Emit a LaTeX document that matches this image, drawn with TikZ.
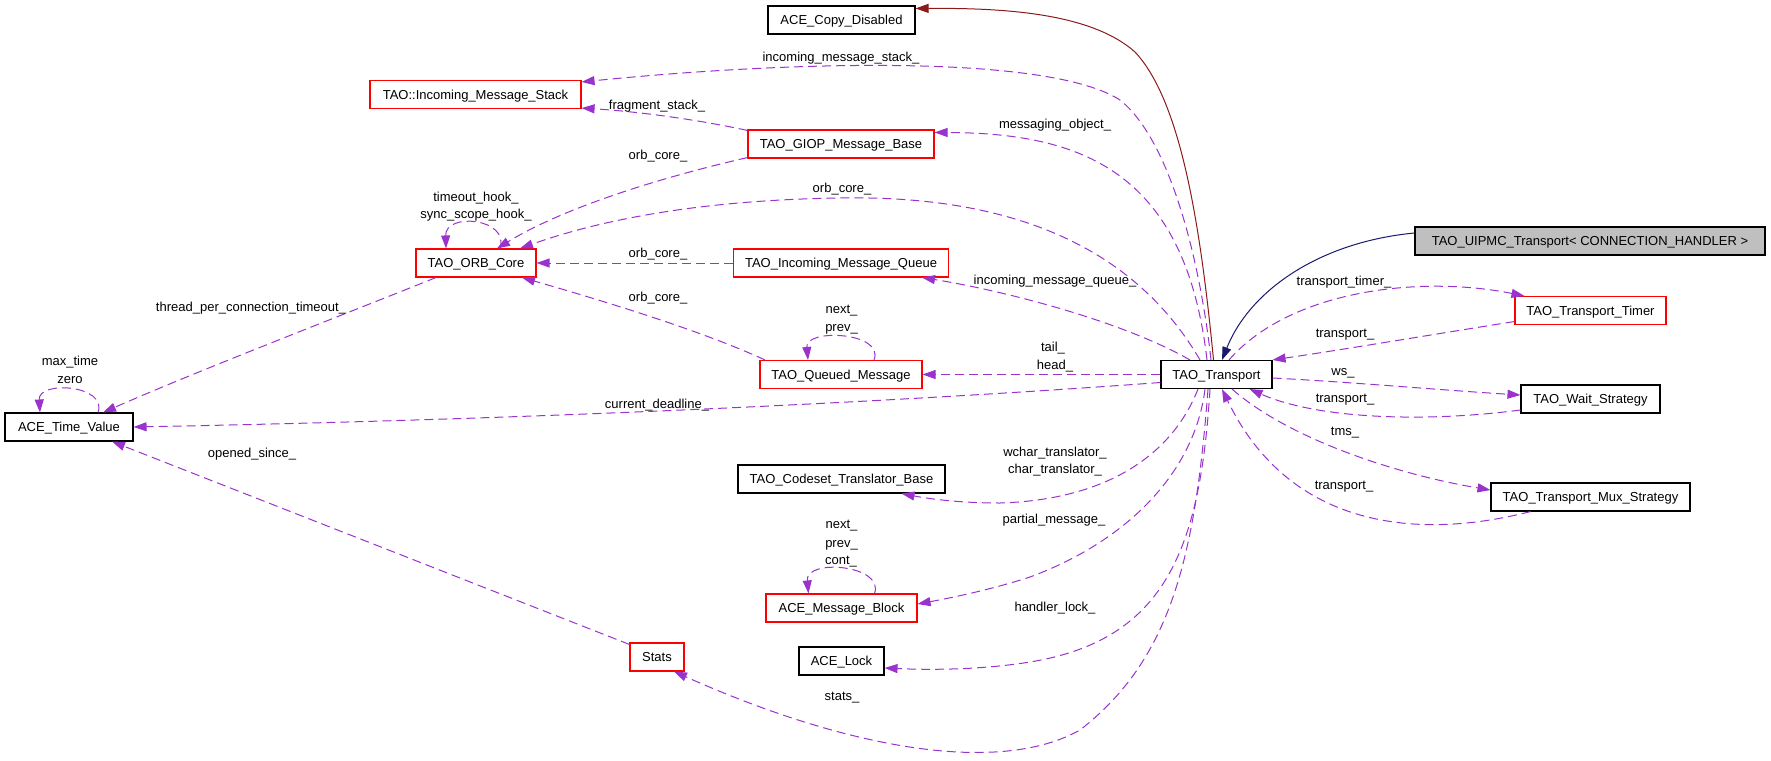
\documentclass[tikz,border=0pt]{standalone}
\usepackage{fontspec}
\setmainfont{Liberation Sans}
\usetikzlibrary{arrows.meta}
\definecolor{memc}{HTML}{9A32CD}
\definecolor{inhA}{HTML}{8B1A1A}
\definecolor{inhB}{HTML}{191970}
\definecolor{mainfill}{HTML}{BFBFBF}
\newcommand\dfont{\fontsize{13}{15}\selectfont}
\tikzset{
  cls/.style={draw=black, line width=1.1pt, minimum height=28pt, inner sep=0pt,
    text height=9.5pt, text depth=0pt, font=\dfont, fill=white},
  redcls/.style={cls, draw=red},
  maincls/.style={cls, fill=mainfill},
  mem/.style={draw=memc, line width=1pt, dash pattern=on 9pt off 5pt,
    -{Triangle[length=13pt,width=9pt,fill=memc]}},
  inha/.style={draw=inhA, line width=1pt, -{Triangle[length=13pt,width=9pt,fill=inhA]}},
  inhb/.style={draw=inhB, line width=1pt, -{Triangle[length=13pt,width=9pt,fill=inhB]}},
  lbl/.style={font=\dfont, inner sep=0pt, text height=9.5pt, text depth=0pt}
}
\begin{document}
\begin{tikzpicture}[x=1pt,y=-1pt]
\useasboundingbox (0,0) rectangle (1771,760);

% classes
\node[cls, minimum width=147pt] (cd) at (841.5,20) {ACE\_Copy\_Disabled};
\node[redcls, minimum width=211pt] (ims) at (475.5,94.5) {TAO::Incoming\_Message\_Stack};
\node[redcls, minimum width=186pt] (giop) at (841,144) {TAO\_GIOP\_Message\_Base};
\node[redcls, minimum width=120pt] (orb) at (476,263) {TAO\_ORB\_Core};
\node[redcls, minimum width=215pt] (imq) at (841,263) {TAO\_Incoming\_Message\_Queue};
\node[redcls, minimum width=162pt] (qm) at (841,374.5) {TAO\_Queued\_Message};
\node[cls, minimum width=111pt] (tr) at (1216.5,374.5) {TAO\_Transport};
\node[maincls, minimum width=350pt] (uipmc) at (1590,241) {TAO\_UIPMC\_Transport< CONNECTION\_HANDLER >};
\node[redcls, minimum width=151pt] (timer) at (1590.5,310.5) {TAO\_Transport\_Timer};
\node[cls, minimum width=139pt] (wait) at (1590.5,399) {TAO\_Wait\_Strategy};
\node[cls, minimum width=199pt] (mux) at (1590.5,497) {TAO\_Transport\_Mux\_Strategy};
\node[cls, minimum width=128pt] (tv) at (69,427) {ACE\_Time\_Value};
\node[cls, minimum width=207pt] (cs) at (841.5,479) {TAO\_Codeset\_Translator\_Base};
\node[redcls, minimum width=151pt] (mb) at (841.5,608) {ACE\_Message\_Block};
\node[cls, minimum width=85pt] (lock) at (841.5,661) {ACE\_Lock};
\node[redcls, minimum width=54pt] (stats) at (657,657) {Stats};

% inheritance
\draw[inha] ([xshift=-3pt]tr.north) .. controls (1200,220) and (1180,100) .. (1135,52)
  .. controls (1090,12) and (1000,8) .. ([yshift=-3pt]cd.north east);
\draw[inhb] ([yshift=8pt]uipmc.west) .. controls (1320,242) and (1250,290) .. ([xshift=5.5pt]tr.north);

% members
\draw[mem] ([xshift=-5.5pt]tr.north) .. controls (1200,260) and (1170,140) .. (1120,100)
  .. controls (1050,55) and (800,60) .. ([yshift=-2pt]ims.north east);
\draw[mem] ([yshift=-1pt]giop.north west) .. controls (690,118) and (630,111) .. ([yshift=1pt]ims.south east);
\draw[mem] ([xshift=-9.5pt]tr.north) .. controls (1185,170) and (1080,133) .. ([yshift=-3pt]giop.north east);
\draw[mem] ([yshift=1pt]giop.south west) .. controls (650,180) and (560,210) .. ([xshift=21pt]orb.north);
\draw[mem] ([xshift=-16.5pt]tr.north) .. controls (1130,240) and (1000,195) .. (840,198)
  .. controls (700,200) and (600,220) .. ([xshift=44pt]orb.north);
\draw[mem] ([xshift=24pt]orb.north) .. controls (510,218) and (445,212) .. ([xshift=-30pt]orb.north);
\draw[mem] (imq.west) -- (orb.east);
\draw[mem] ([xshift=-76pt]qm.north) .. controls (700,330) and (600,300) .. ([xshift=46pt]orb.south);
\draw[mem] ([xshift=33pt]qm.north) .. controls (885,332) and (805,328) .. ([xshift=-33pt]qm.north);
\draw[mem] (tr.west) -- (qm.east);
\draw[mem] ([xshift=-26.5pt]tr.north) .. controls (1120,320) and (1000,290) .. ([xshift=81pt]imq.south);
\draw[mem] ([yshift=-8pt]tr.west) .. controls (950,398) and (600,418) .. (tv.east);
\draw[mem] ([xshift=-40pt]orb.south) .. controls (330,320) and (200,370) .. ([xshift=34pt]tv.north);
\draw[mem] ([xshift=29pt]tv.north) .. controls (108,385) and (38,380) .. ([xshift=-29pt]tv.north);
\draw[mem] ([yshift=-2pt]stats.north west) -- ([xshift=43pt]tv.south);
\draw[mem] ([xshift=-8.5pt]tr.south) .. controls (1195,560) and (1170,660) .. (1080,730)
  .. controls (1000,775) and (850,750) .. ([xshift=17pt]stats.south);
\draw[mem] ([xshift=-6.5pt]tr.south) .. controls (1200,550) and (1165,640) .. (1030,662)
  .. controls (980,670) and (930,670) .. ([yshift=-7pt]lock.east);
\draw[mem] ([xshift=-11.5pt]tr.south) .. controls (1195,470) and (1130,540) .. (1030,577)
  .. controls (990,590) and (950,598) .. ([yshift=4pt]mb.east);
\draw[mem] ([xshift=-18.5pt]tr.south) .. controls (1170,460) and (1100,500) .. (1000,503)
  .. controls (960,503) and (930,499) .. ([xshift=60pt]cs.south);
\draw[mem] ([xshift=12.5pt]tr.north) .. controls (1290,290) and (1420,275) .. ([xshift=10pt]timer.north west);
\draw[mem] ([yshift=-11pt]timer.west) .. controls (1430,335) and (1340,350) .. (tr.north east);
\draw[mem] ([yshift=-3.5pt]tr.east) .. controls (1350,382) and (1440,390) .. ([yshift=4pt]wait.west);
\draw[mem] ([yshift=-11pt]wait.west) .. controls (1430,422) and (1320,420) .. ([xshift=33pt]tr.south);
\draw[mem] ([xshift=15.5pt]tr.south) .. controls (1290,440) and (1400,475) .. ([yshift=7pt]mux.west);
\draw[mem] ([xshift=40pt]mux.south west) .. controls (1420,540) and (1290,530) .. ([xshift=5.5pt]tr.south);
\draw[mem] ([xshift=33pt]mb.north) .. controls (885,565) and (805,558) .. ([xshift=-33pt]mb.north);

% labels
\node[lbl] (l1) at (841,57) {incoming\_message\_stack\_};
\node[lbl] (l2) at (657,105) {fragment\_stack\_};
\node[lbl] (l3) at (1055,124) {messaging\_object\_};
\node[lbl] (l4) at (658,155) {orb\_core\_};
\node[lbl] (l5) at (842,188) {orb\_core\_};
\node[lbl] (l6) at (476,197) {timeout\_hook\_};
\node[lbl] (l7) at (476,214) {sync\_scope\_hook\_};
\node[lbl] (l8) at (658,253) {orb\_core\_};
\node[lbl] (l9) at (658,297) {orb\_core\_};
\node[lbl] (l10) at (841.5,309) {next\_};
\node[lbl] (l11) at (841.5,327) {prev\_};
\node[lbl] (l12) at (1053,347) {tail\_};
\node[lbl] (l13) at (1055,365) {head\_};
\node[lbl] (l14) at (1055,280) {incoming\_message\_queue\_};
\node[lbl] (l15) at (657,404) {current\_deadline\_};
\node[lbl] (l16) at (251,307) {thread\_per\_connection\_timeout\_};
\node[lbl] (l17) at (70,361) {max\_time};
\node[lbl] (l18) at (70,379) {zero};
\node[lbl] (l19) at (252,453) {opened\_since\_};
\node[lbl] (l20) at (842,696) {stats\_};
\node[lbl] (l21) at (1055,607) {handler\_lock\_};
\node[lbl] (l22) at (1054,519) {partial\_message\_};
\node[lbl] (l23) at (1055,452) {wchar\_translator\_};
\node[lbl] (l24) at (1055,469) {char\_translator\_};
\node[lbl] (l25) at (1344,281) {transport\_timer\_};
\node[lbl] (l26) at (1345,333) {transport\_};
\node[lbl] (l27) at (1343,371) {ws\_};
\node[lbl] (l28) at (1345,398) {transport\_};
\node[lbl] (l29) at (1345,431) {tms\_};
\node[lbl] (l30) at (1344,485) {transport\_};
\node[lbl] (l31) at (841.5,524) {next\_};
\node[lbl] (l32) at (841.5,543) {prev\_};
\node[lbl] (l33) at (841,560) {cont\_};
\end{tikzpicture}
\end{document}
